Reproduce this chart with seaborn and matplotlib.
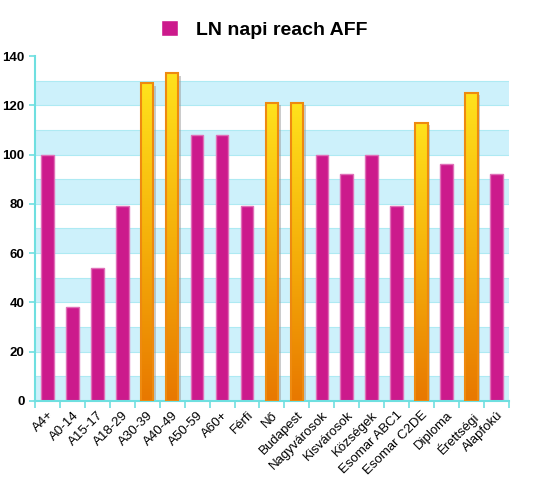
import numpy as np
import pandas as pd
import seaborn as sns
import matplotlib.pyplot as plt
from matplotlib.patches import Patch
from matplotlib.colors import LinearSegmentedColormap

# data
categories = ['A4+', 'A0-14', 'A15-17', 'A18-29', 'A30-39', 'A40-49', 'A50-59', 'A60+',
              'Férfi', 'Nő', 'Budapest', 'Nagyvárosok', 'Kisvárosok', 'Községek',
              'Esomar ABC1', 'Esomar C2DE', 'Diploma', 'Érettségi', 'Alapfokú']
values = [100, 38, 54, 79, 129, 133, 108, 108, 79, 121, 121, 100, 92, 100, 79, 113, 96, 125, 92]
series_name = 'LN napi reach AFF'
highlight_above = 110

df = pd.DataFrame({'cat': categories, 'val': values})

sns.set_style('white')
plt.rcParams['font.family'] = ['Liberation Sans', 'DejaVu Sans']
plt.rcParams['text.color'] = 'black'
plt.rcParams['xtick.labelcolor'] = 'black'
plt.rcParams['ytick.labelcolor'] = 'black'

fig = plt.figure(figsize=(5.39, 4.87), dpi=100)
ax = fig.add_axes([0.065, 0.177, 0.879, 0.708])

# striped background
for lo in range(0, 140, 20):
    ax.axhspan(lo, lo + 10, color='#cdf1fb', zorder=0, lw=0)
    ax.axhline(lo, color='#aeeaf3', lw=0.8, zorder=0.5)
    ax.axhline(lo + 10, color='#aeeaf3', lw=0.8, zorder=0.5)

magenta = '#cc1a8c'
sns.barplot(data=df, x='cat', y='val', color=magenta, width=0.5, saturation=1,
            ax=ax, zorder=2, linewidth=1, edgecolor='#e070b8')

# gold gradient for the high bars
grad = np.linspace(0, 1, 256).reshape(-1, 1)
gold = LinearSegmentedColormap.from_list('gold', ['#e87800', '#f5b00a', '#ffe21c'])
for patch, v in zip(ax.containers[0].patches, values):
    if v > highlight_above:
        patch.set_facecolor('none')
        patch.set_edgecolor('#ee8a10')
        patch.set_linewidth(1.5)
        patch.set_zorder(4)
        x0 = patch.get_x()
        w = patch.get_width()
        # shadow
        ax.bar(x0 + w / 2 + 0.1, v - 1, width=w, bottom=0, color='#9a9a9a', alpha=0.5,
               zorder=1.8, linewidth=0)
        im = ax.imshow(grad, extent=(x0, x0 + w, 0, v), origin='lower', cmap=gold,
                       aspect='auto', zorder=3)
        im.set_clip_path(patch)

ax.set_xlim(-0.5, len(categories) - 0.5)
ax.set_ylim(0, 140)
ax.set_xlabel('')
ax.set_ylabel('')

axis_col = '#6fdfe0'
for s in ['top', 'right']:
    ax.spines[s].set_visible(False)
for s in ['left', 'bottom']:
    ax.spines[s].set_color(axis_col)
    ax.spines[s].set_linewidth(1.5)

ax.set_yticks(range(0, 141, 20))
ax.tick_params(axis='y', left=True, length=4, color=axis_col, width=1.2, labelsize=9.5)
for t in ax.get_yticklabels():
    t.set_fontweight('bold')

ax.set_xticks(range(len(categories)))
ax.set_xticklabels(categories, rotation=45, ha='right', rotation_mode='anchor', fontsize=9.5)
ax.set_xticks(np.arange(-0.5, len(categories), 1), minor=True)
ax.tick_params(axis='x', which='major', length=0, pad=6)
ax.tick_params(axis='x', which='minor', bottom=True, length=5, color=axis_col, width=1.2)

fig.legend(handles=[Patch(facecolor=magenta, label=series_name)], loc='upper center',
           bbox_to_anchor=(0.49, 0.995), frameon=False, handlelength=0.9, handleheight=0.9,
           handletextpad=0.9, prop={'weight': 'bold', 'size': 14})

fig.savefig('out.png', dpi=100)
